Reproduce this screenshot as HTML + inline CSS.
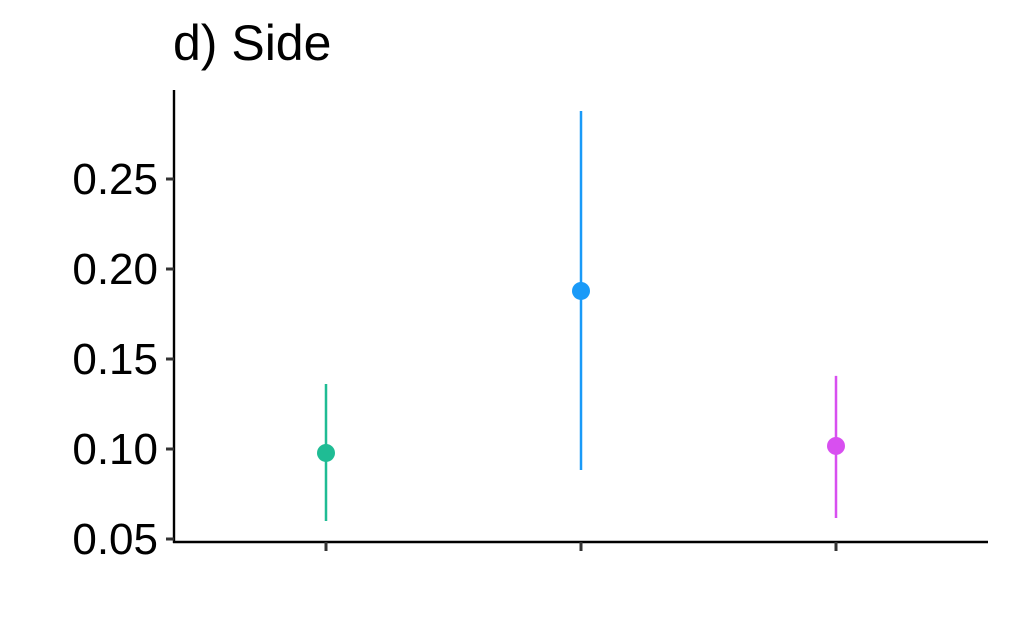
<!DOCTYPE html>
<html><head><meta charset="utf-8"><style>
html,body{margin:0;padding:0;background:#fff;}
svg{display:block;font-family:"Liberation Sans",Arial,sans-serif;}
</style></head><body>
<svg id="chart" width="1010" height="624">
<text x="173" y="60" font-size="50" fill="#000">d) Side</text>
<g id="axes"></g>
<g id="marks"></g>
</svg>
<script>
const categories = ["A", "B", "C"];
const estimates = [0.0978, 0.1878, 0.1017];
const lowerCI = [0.0600, 0.0883, 0.0617];
const upperCI = [0.1361, 0.2878, 0.1406];
const colors = ["#1fbc94", "#1a9af8", "#d84ff0"];
const yTicks = [0.05, 0.10, 0.15, 0.20, 0.25];
const yTickLabels = ["0.05", "0.10", "0.15", "0.20", "0.25"];

const NS = "http://www.w3.org/2000/svg";
function y(v){ return 539 - (v - 0.05) * 1800; }
function x(i){ return 326 + i * 255; }
function mk(tag, attrs, parent){
  const e = document.createElementNS(NS, tag);
  for (const k in attrs) e.setAttribute(k, attrs[k]);
  parent.appendChild(e); return e;
}
const axes = document.getElementById("axes");
const marks = document.getElementById("marks");
let l = mk("line", {x1:174, y1:90, x2:174, y2:543, stroke:"#000", "stroke-width":2.4}, axes);


l = mk("line", {x1:173, y1:542, x2:988, y2:542, stroke:"#000", "stroke-width":2.4}, axes);


yTicks.forEach((v, i) => {
  const t = mk("line", {x1:166, y1:y(v), x2:174, y2:y(v), stroke:"#333", "stroke-width":3}, axes);
  
  
  const tx = mk("text", {x:158, y:y(v) + 15, "font-size":44, "text-anchor":"end", fill:"#000"}, axes);
  tx.textContent = yTickLabels[i];
  
  
});
categories.forEach((c, i) => {
  const t = mk("line", {x1:x(i), y1:542, x2:x(i), y2:551, stroke:"#333", "stroke-width":3}, axes);
  
  
  const e = mk("line", {x1:x(i), y1:y(upperCI[i]), x2:x(i), y2:y(lowerCI[i]), stroke:colors[i], "stroke-width":2.5}, marks);
  
  
  const p = mk("circle", {cx:x(i), cy:y(estimates[i]), r:9, fill:colors[i]}, marks);
  
  
});
</script>
</body></html>
